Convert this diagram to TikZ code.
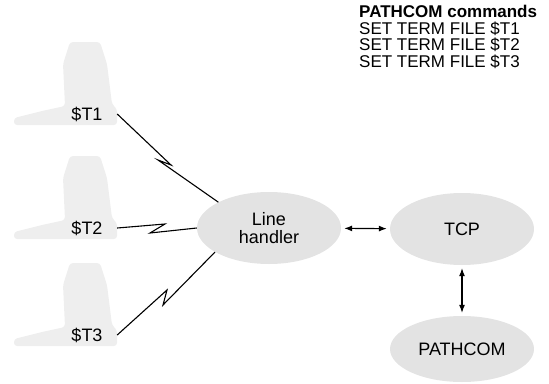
\documentclass[tikz,border=0pt]{standalone}
\usepackage{fontspec}
\setmainfont{Liberation Sans}
\usetikzlibrary{arrows.meta, shapes, positioning}

\begin{document}
\begin{tikzpicture}[x=1pt,y=-1pt,
 cloud node/.style={ellipse, fill=gray!22, minimum width=144pt,
   minimum height=72pt, inner sep=0pt, align=center,
   font=\fontsize{18}{18}\selectfont},
 term label/.style={minimum width=60pt, inner sep=0pt,
   font=\fontsize{18}{18}\selectfont},
 term shape/.style={fill=gray!13, rounded corners=3pt},
 link/.style={line width=1.1pt},
 both/.style={{Latex[length=8pt,width=6pt]}-{Latex[length=8pt,width=6pt]},
   line width=1.1pt, shorten <=3pt, shorten >=3pt}]
  \useasboundingbox (0,0) rectangle (549,383);

  % commands list
  \node[anchor=north west, align=left, inner sep=0pt,
    font=\fontsize{17}{16.7}\selectfont] (cmds) at (359,5)
    {\textbf{PATHCOM commands}\\SET TERM FILE \$T1\\SET TERM FILE \$T2\\SET TERM FILE \$T3};

  % terminals
  \foreach \n/\y in {1/114, 2/228, 3/335} {
    \fill[term shape, shift={(87,\y)}] (-17,-72) -- (13,-72) -- (20,-50)
      -- (25,-10) -- (30,-5) -- (30,11) -- (-73,11) -- (-73,4) -- (-45,-3)
      -- (-22,-8) -- (-24,-50) -- cycle;
    \node[term label] (t\n) at (87,\y) {\$T\n};
  }

  \node[cloud node] (lh) at (269,228) {Line\\handler};
  \node[cloud node] (tcp) at (462,229) {TCP};
  \node[cloud node, minimum height=66pt] (pc) at (462,349) {PATHCOM};

  % lines to the terminals
  \draw[link] (t1.east) -- (171,165) -- (158,160) -- (lh.153);
  \draw[link] (t2.east) -- (165,224) -- (150,233) -- (lh.west);
  \draw[link] (t3.east) -- (167,290) -- (163,305) -- (lh.204);

  \draw[both] (lh) -- (tcp);
  \draw[both] (tcp) -- (pc);
\end{tikzpicture}
\end{document}
